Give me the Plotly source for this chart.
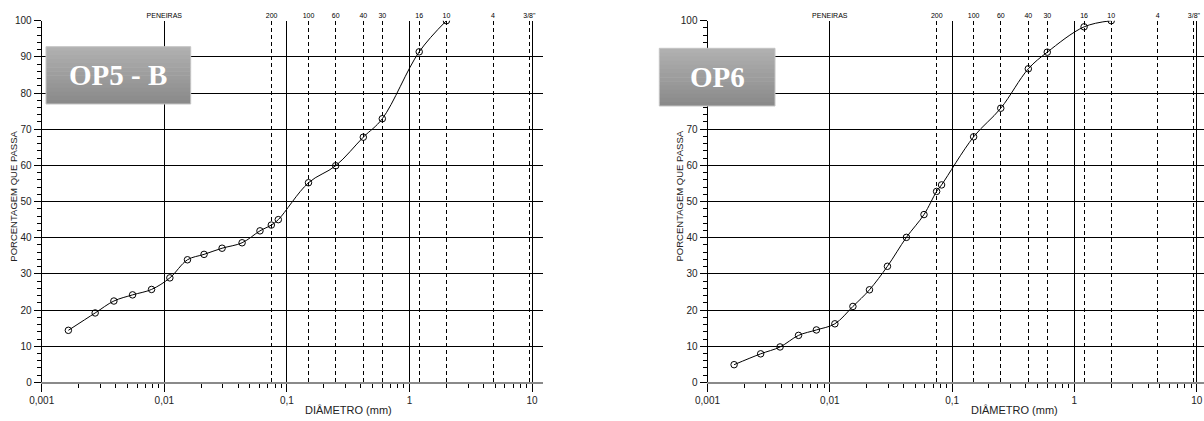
import plotly.graph_objects as go

# ---------------- data ----------------
op5_diam = [0.00165, 0.00273, 0.00388, 0.00551, 0.00787, 0.0111, 0.01545, 0.0211, 0.0296,
            0.0431, 0.0603, 0.0746, 0.0851, 0.15, 0.25, 0.42, 0.6, 1.2, 2.0]
op5_pass = [14.4, 19.2, 22.5, 24.2, 25.7, 28.9, 33.9, 35.4, 37.1,
            38.6, 41.9, 43.5, 45.0, 55.2, 59.9, 67.8, 72.9, 91.4, 100]

op6_diam = [0.00165, 0.00272, 0.00392, 0.00555, 0.00777, 0.0110, 0.01545, 0.0211, 0.0296,
            0.0423, 0.0589, 0.0747, 0.0820, 0.15, 0.25, 0.42, 0.6, 1.2, 2.0]
op6_pass = [4.9, 7.9, 9.8, 13.0, 14.5, 16.2, 21.0, 25.6, 32.1,
            40.1, 46.4, 52.8, 54.6, 67.9, 75.8, 86.7, 91.3, 98.3, 100]

sieve_mm = [0.075, 0.15, 0.25, 0.42, 0.6, 1.2, 2.0, 4.8, 9.5]
sieve_labels = ['200', '100', '60', '40', '30', '16', '10', '4', '3/8"']

x_tickvals = [0.001, 0.01, 0.1, 1, 10]
x_ticktext = ['0,001', '0,01', '0,1', '1', '10']
x_minorvals = [m * d for d in [0.001, 0.01, 0.1, 1] for m in range(2, 10)]

chart_titles = ['OP5 - B', 'OP6']

# ---------------- geometry helpers (page pixels -> paper) ----------------
W, H = 1204, 421
def px(x):
    return x / W
def py(y):
    return 1 - y / H

dec_left, dec_right = 122.6, 122.3
x0_left, x0_right = 41.7, 707.5
ydom = [py(382.4), py(20.7)]
xdom1 = [px(x0_left), px(542.7)]
xdom2 = [px(x0_right), 1.0]
xr1 = [-3, -3 + (542.7 - x0_left) / dec_left]
xr2 = [-3, -3 + (W - x0_right) / dec_right]

FONT = 'Liberation Sans, Arial, sans-serif'

fig = go.Figure()

for diam, pas, xa, ya in [(op5_diam, op5_pass, 'x', 'y'), (op6_diam, op6_pass, 'x2', 'y2')]:
    fig.add_trace(go.Scatter(
        x=diam, y=pas, xaxis=xa, yaxis=ya, mode='lines+markers',
        line=dict(color='black', width=1, shape='spline', smoothing=1.0),
        marker=dict(symbol='circle-open', size=6.5, color='black', line=dict(width=1, color='black')),
        showlegend=False, hoverinfo='skip'))

# dummy traces so the top sieve axes are drawn
for xa, ya in [('x3', 'y'), ('x4', 'y2')]:
    fig.add_trace(go.Scatter(x=sieve_mm, y=[None] * len(sieve_mm), xaxis=xa, yaxis=ya,
                             mode='markers', showlegend=False, hoverinfo='skip'))

def xaxis_cfg(dom, rng, anchor):
    return dict(
        domain=dom, type='log', range=rng, anchor=anchor,
        tickmode='array', tickvals=x_tickvals, ticktext=x_ticktext,
        ticks='outside', ticklen=8, tickwidth=1, tickcolor='black',
        showline=True, linecolor='#8a8a8a', linewidth=2,
        showgrid=True, gridcolor='black', gridwidth=1, zeroline=False,
        minor=dict(tickmode='array', tickvals=x_minorvals, ticks='outside', ticklen=4,
                   tickwidth=1, tickcolor='black', showgrid=False),
        tickfont=dict(family=FONT, size=10, color='#222'),
        ticklabeloverflow='allow',
        automargin=False)

def yaxis_cfg(anchor):
    return dict(
        domain=ydom, range=[0, 100], anchor=anchor,
        tick0=0, dtick=10, ticks='outside', ticklen=7, tickwidth=1, tickcolor='black',
        showline=True, linecolor='black', linewidth=1,
        showgrid=True, gridcolor='black', gridwidth=1, zeroline=False,
        minor=dict(dtick=2, ticks='outside', ticklen=4, tickwidth=1, tickcolor='black', showgrid=False),
        tickfont=dict(family=FONT, size=10, color='#222'),
        automargin=False)

def top_cfg(over, rng, anchor):
    return dict(
        overlaying=over, side='top', anchor=anchor, type='log', range=rng,
        tickmode='array', tickvals=sieve_mm + [0.01], ticktext=sieve_labels + ['PENEIRAS'],
        ticks='', showline=False, showgrid=True, gridcolor='black', gridwidth=1,
        griddash='4px,3px', zeroline=False,
        tickfont=dict(family=FONT, size=7, color='black'),
        ticklabeloverflow='allow',
        automargin=False)

fig.update_layout(
    width=W, height=H,
    margin=dict(l=0, r=0, t=0, b=0),
    paper_bgcolor='white', plot_bgcolor='white',
    xaxis=xaxis_cfg(xdom1, xr1, 'y'),
    xaxis2=xaxis_cfg(xdom2, xr2, 'y2'),
    yaxis=yaxis_cfg('x'),
    yaxis2=yaxis_cfg('x2'),
    xaxis3=top_cfg('x', xr1, 'y'),
    xaxis4=top_cfg('x2', xr2, 'y2'),
)

# axis titles
annots = []
for x0 in [x0_left, x0_right]:
    annots.append(dict(text='DIÂMETRO (mm)', xref='paper', yref='paper',
                       x=px(x0 + 307), y=py(410), xanchor='center', yanchor='middle',
                       showarrow=False, font=dict(family=FONT, size=11, color='#222')))
    annots.append(dict(text='PORCENTAGEM QUE PASSA', xref='paper', yref='paper',
                       x=px(x0 - 29), y=py(196), xanchor='center', yanchor='middle',
                       textangle=-90, showarrow=False,
                       font=dict(family=FONT, size=9.5, color='#222')))

# gray gradient label boxes
shapes = []
boxes = [(46, 190.7, 46.7, 104), (659.3, 775, 48.3, 106)]
n_strips = 14
top_rgb, bot_rgb = (176, 176, 176), (138, 138, 138)
for (bx0, bx1, by0, by1), title in zip(boxes, chart_titles):
    h = (by1 - by0) / n_strips
    for i in range(n_strips):
        t = i / (n_strips - 1)
        c = tuple(round(top_rgb[k] + (bot_rgb[k] - top_rgb[k]) * t) for k in range(3))
        shapes.append(dict(type='rect', xref='paper', yref='paper', layer='above',
                           x0=px(bx0), x1=px(bx1), y0=py(by0 + i * h),
                           y1=py(min(by1, by0 + (i + 1) * h + 0.5)),
                           fillcolor='rgb(%d,%d,%d)' % c, line=dict(width=0)))
    shapes.append(dict(type='rect', xref='paper', yref='paper', layer='above',
                       x0=px(bx0), x1=px(bx1), y0=py(by0), y1=py(by1),
                       fillcolor='rgba(0,0,0,0)', line=dict(width=1, color='#c4c4c4')))
    annots.append(dict(text='<b>%s</b>' % title, xref='paper', yref='paper',
                       x=px((bx0 + bx1) / 2), y=py((by0 + by1) / 2), xanchor='center', yanchor='middle',
                       showarrow=False,
                       font=dict(family='Liberation Serif, Times New Roman, serif', size=29, color='white')))

fig.update_layout(annotations=annots, shapes=shapes)

# page without the default 8px body margin, so the figure fills the 1204x421 window
fig.write_html('out.html',
               config={'staticPlot': True, 'displayModeBar': False},
               post_script="document.body.style.margin='0';"
                           "document.documentElement.style.overflow='hidden';")
